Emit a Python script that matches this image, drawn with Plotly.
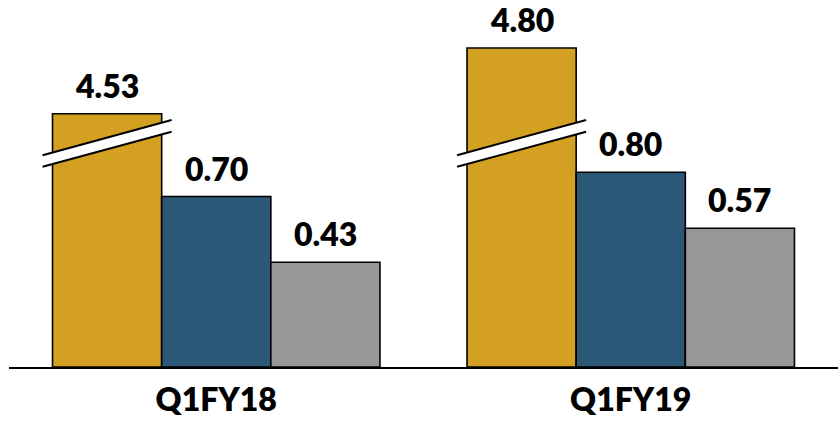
import plotly.graph_objects as go

# ---- data ----
categories = ["Q1FY18", "Q1FY19"]
series_names = ["Series 1", "Series 2", "Series 3"]
gold_values = [4.53, 4.80]
blue_values = [0.70, 0.80]
gray_values = [0.43, 0.57]

# ---- style / layout constants ----
COLORS = ["#D4A021", "#2B5877", "#979797"]
BREAK_OFFSET = 3.49          # amount removed by the axis break on the first series
BARGAP = 0.21
N_SERIES = 3
BAR_W = (1 - BARGAP) / N_SERIES
FONT = "Lato"
TXT_SIZE = 32
WEIGHT = 800

xpos = list(range(len(categories)))

fig = go.Figure()

series = [gold_values, blue_values, gray_values]
for i, vals in enumerate(series):
    shown = [v - BREAK_OFFSET for v in vals] if i == 0 else list(vals)
    fig.add_trace(go.Bar(
        x=xpos, y=shown, name=series_names[i],
        marker=dict(color=COLORS[i], line=dict(color="#000000", width=1.6)),
        showlegend=False, hoverinfo="skip",
    ))
    # value labels above each bar
    for gi, (v, s) in enumerate(zip(vals, shown)):
        fig.add_annotation(
            x=gi + (i - 1) * BAR_W, y=s, xref="x", yref="y",
            text=f"{v:.2f}", showarrow=False,
            xanchor="center", yanchor="bottom", yshift=7,
            font=dict(family=FONT, size=TXT_SIZE, color="#000000", weight=WEIGHT),
        )

# ---- axis-break marks on the first (broken) series ----
OVERHANG = 0.024
Y_LEFT, Y_RIGHT, THICK = 0.822, 0.966, 0.048
for gi in xpos:
    cx = gi - BAR_W  # centre of first bar in group
    x0 = cx - BAR_W / 2 - OVERHANG
    x1 = cx + BAR_W / 2 + OVERHANG
    path = (f"M {x0},{Y_LEFT} L {x1},{Y_RIGHT} L {x1},{Y_RIGHT + THICK} "
            f"L {x0},{Y_LEFT + THICK} Z")
    fig.add_shape(type="path", path=path, xref="x", yref="y",
                  fillcolor="#FFFFFF", line=dict(width=0), layer="above")
    for dy in (0, THICK):
        fig.add_shape(type="line", xref="x", yref="y",
                      x0=x0, y0=Y_LEFT + dy, x1=x1, y1=Y_RIGHT + dy,
                      line=dict(color="#000000", width=2), layer="above")

fig.update_layout(
    width=838, height=435,
    margin=dict(l=9, r=0, t=0, b=68),
    paper_bgcolor="#FFFFFF", plot_bgcolor="#FFFFFF",
    barmode="group", bargap=BARGAP, bargroupgap=0,
    xaxis=dict(range=[-0.5, 1.5], tickvals=xpos, ticktext=categories,
               showgrid=False, zeroline=False, showline=True,
               linecolor="#000000", linewidth=2, ticks="",
               ticklabelstandoff=4,
               tickfont=dict(family=FONT, size=TXT_SIZE, color="#000000", weight=WEIGHT)),
    yaxis=dict(range=[0, 367 / 243.5], visible=False, showgrid=False, zeroline=False),
)

fig.write_html("out.html")
